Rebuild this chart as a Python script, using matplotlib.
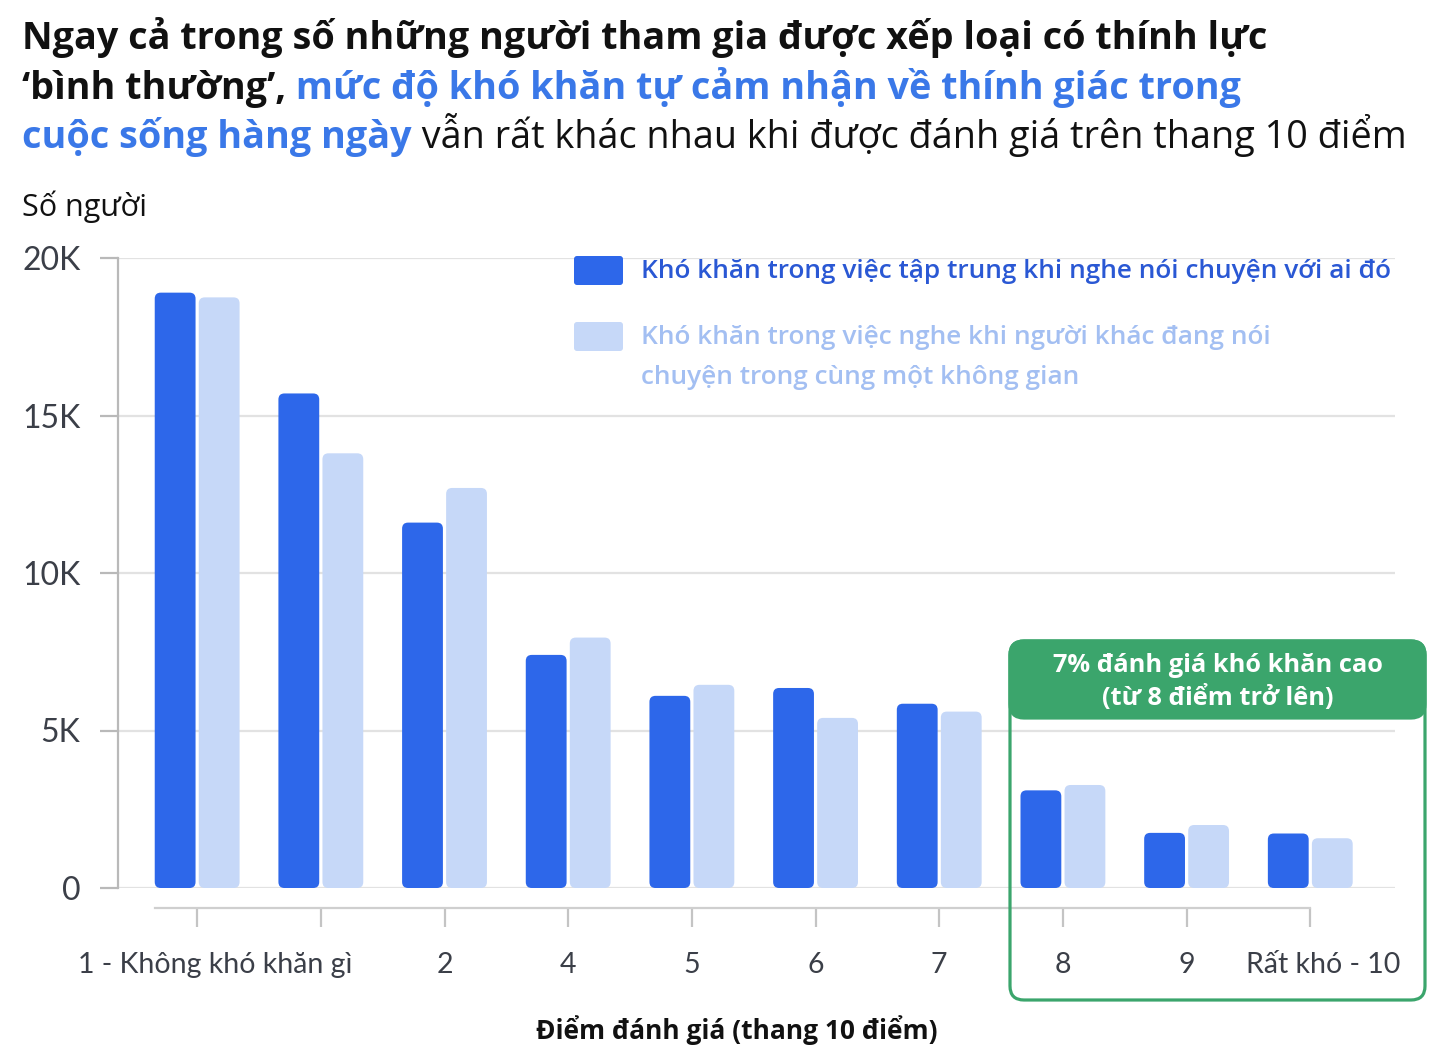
import numpy as np
import matplotlib
matplotlib.use("Agg")
import matplotlib.pyplot as plt
import matplotlib.transforms as mtransforms
from matplotlib.patches import FancyBboxPatch

plt.rcParams['font.family'] = ['Lato', 'Noto Sans', 'DejaVu Sans']
TXT_FONT = ['Open Sans', 'Noto Sans', 'DejaVu Sans']

# data
categories = ["1 - Không khó khăn gì", "", "2", "4", "5", "6", "7", "8", "9", "Rất khó - 10"]
focus_vals = [18900, 15700, 11600, 7400, 6100, 6350, 5850, 3100, 1750, 1730]
hearing_vals = [18750, 13800, 12700, 7950, 6450, 5400, 5600, 3270, 2000, 1580]
yticks = [0, 5000, 10000, 15000, 20000]
ytick_labels = ["0", "5K", "10K", "15K", "20K"]
legend_focus = "Khó khăn trong việc tập trung khi nghe nói chuyện với ai đó"
legend_hearing = ["Khó khăn trong việc nghe khi người khác đang nói",
                  "chuyện trong cùng một không gian"]
callout = ["7% đánh giá khó khăn cao", "(từ 8 điểm trở lên)"]

DARK = "#2d67ea"
LIGHT = "#c6d8f8"
BLUE_TXT = "#3a78e8"
GREEN = "#3ba56c"
BLACK = "#111111"
GREY_TXT = "#3b3f48"

W, H = 1446, 1062
fig = plt.figure(figsize=(W / 100, H / 100), dpi=100)
fig.patch.set_facecolor("white")

ax = fig.add_axes([118 / W, 1 - 888 / H, (1395 - 118) / W, 630 / H])
x = np.arange(len(categories))
ax.set_xlim(-0.64, 9.685)
ax.set_ylim(0, 20000)

bw = 0.33
off = 0.178
b1 = ax.bar(x - off, focus_vals, bw, color=DARK, zorder=3)
b2 = ax.bar(x + off, hearing_vals, bw, color=LIGHT, zorder=3)

# swap plain bars for rounded ones
px_per_x = (1395 - 118) / (9.685 + 0.64)
px_per_y = 630 / 20000
asp = (1 / px_per_y) / (1 / px_per_x)
r = 6 / px_per_x
for bars, col in [(b1, DARK), (b2, LIGHT)]:
    for b in bars:
        bx, by, bwid, bh = b.get_x(), b.get_y(), b.get_width(), b.get_height()
        b.remove()
        ax.add_patch(FancyBboxPatch((bx, by), bwid, bh,
                                    boxstyle=f"round,pad=0,rounding_size={r}",
                                    mutation_aspect=asp, fc=col, ec="none", zorder=3))

ax.set_yticks(yticks)
ax.set_yticklabels(ytick_labels)
ax.set_xticks(x)
ax.set_xticklabels(categories)
ax.grid(axis="y", color="#e2e2e2", lw=1.6)
ax.set_axisbelow(True)

for s in ["top", "right"]:
    ax.spines[s].set_visible(False)
ax.spines["left"].set_color("#b9b9b9")
ax.spines["left"].set_linewidth(1.6)
ax.spines["bottom"].set_position(("outward", 14.4))
ax.spines["bottom"].set_bounds(-0.34, 9)
ax.spines["bottom"].set_color("#cfcfcf")
ax.spines["bottom"].set_linewidth(1.6)

ax.tick_params(axis="y", length=13, width=1.6, color="#b9b9b9", pad=14,
               labelsize=23, labelcolor=GREY_TXT)
ax.tick_params(axis="x", length=14, width=1.6, color="#c4c4c4", pad=18,
               labelsize=20.5, labelcolor=GREY_TXT)

# the end labels sit a little right of their ticks
xlabels = ax.get_xticklabels()
for lab, dx in [(xlabels[0], 18), (xlabels[-1], 13)]:
    lab.set_transform(lab.get_transform() +
                      mtransforms.ScaledTranslation(dx / 100, 0, fig.dpi_scale_trans))

# title with coloured parts
lines = [
    [("Ngay cả trong số những người tham gia được xếp loại có thính lực", BLACK, "bold")],
    [("‘bình thường’,", BLACK, "bold"),
     (" mức độ khó khăn tự cảm nhận về thính giác trong", BLUE_TXT, "bold")],
    [("cuộc sống hàng ngày", BLUE_TXT, "bold"),
     (" vẫn rất khác nhau khi được đánh giá trên thang 10 điểm", BLACK, "normal")],
]
baselines = [49, 99, 148]
renderer = fig.canvas.get_renderer()
for parts, yb in zip(lines, baselines):
    xp = 22 / W
    for txt, col, wt in parts:
        t = fig.text(xp, 1 - yb / H, txt, color=col, fontweight=wt, family=TXT_FONT,
                     fontsize=27.2, va="baseline", ha="left")
        bb = t.get_window_extent(renderer)
        xp = bb.x1 / W

fig.text(22 / W, 1 - 207 / H, "Số người", fontsize=22, color=BLACK, va="center",
         family=TXT_FONT)
fig.text(737 / W, 1 - 1030 / H, "Điểm đánh giá (thang 10 điểm)", fontsize=19,
         fontweight="bold", color=BLACK, ha="center", va="center", family=TXT_FONT)

# legend
fig.patches.append(FancyBboxPatch((5.74, (H - 285) / 100), 0.49, 0.29,
                                  boxstyle="round,pad=0,rounding_size=0.03",
                                  transform=fig.dpi_scale_trans, fc=DARK, ec="none"))
fig.patches.append(FancyBboxPatch((5.74, (H - 351) / 100), 0.49, 0.29,
                                  boxstyle="round,pad=0,rounding_size=0.03",
                                  transform=fig.dpi_scale_trans, fc=LIGHT, ec="none"))
fig.text(641 / W, 1 - 271 / H, legend_focus, fontsize=18.9, fontweight="semibold",
         color="#2a58d4", va="center", family=TXT_FONT)
fig.text(641 / W, 1 - 338 / H, legend_hearing[0], fontsize=18.9, fontweight="semibold",
         color="#a3bff2", va="center", family=TXT_FONT)
fig.text(641 / W, 1 - 377 / H, legend_hearing[1], fontsize=18.9, fontweight="semibold",
         color="#a3bff2", va="center", family=TXT_FONT)

# green callout
fig.patches.append(FancyBboxPatch((10.10, (H - 1000) / 100), 4.15, 3.59,
                                  boxstyle="round,pad=0,rounding_size=0.14",
                                  transform=fig.dpi_scale_trans, fc="none",
                                  ec=GREEN, lw=2.3, zorder=5))
fig.patches.append(FancyBboxPatch((10.10, (H - 718) / 100), 4.15, 0.77,
                                  boxstyle="round,pad=0,rounding_size=0.14",
                                  transform=fig.dpi_scale_trans, fc=GREEN,
                                  ec=GREEN, lw=2.3, zorder=5))
fig.text(1218 / W, 1 - 666 / H, callout[0], fontsize=18.3, fontweight="bold",
         color="white", ha="center", va="center", zorder=6, family=TXT_FONT)
fig.text(1218 / W, 1 - 698 / H, callout[1], fontsize=18.3, fontweight="bold",
         color="white", ha="center", va="center", zorder=6, family=TXT_FONT)

fig.savefig("out.png", dpi=100)
